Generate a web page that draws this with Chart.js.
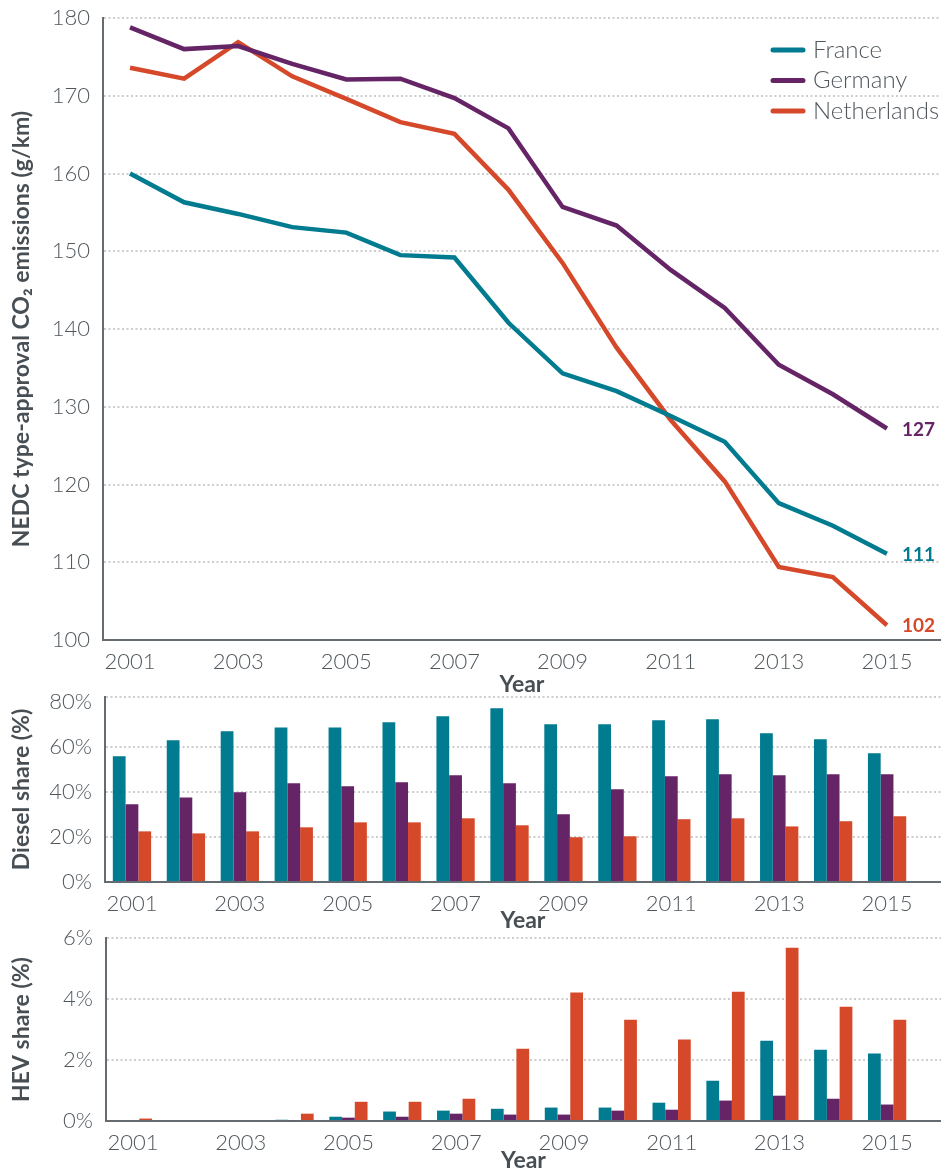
<!DOCTYPE html>
<html>
<head>
<meta charset="utf-8">
<script src="https://cdn.jsdelivr.net/npm/chart.js@4.4.1/dist/chart.umd.min.js"></script>
<style>
    body { margin: 0; background: #fff; }
    .panel { position: absolute; left: 0; width: 941px; }
</style>
</head>
<body>
<div class="panel" style="top:0;height:700px"><canvas id="co2Chart"></canvas></div>
<div class="panel" style="top:680px;height:260px"><canvas id="dieselChart"></canvas></div>
<div class="panel" style="top:920px;height:249px"><canvas id="hevChart"></canvas></div>
<script>
const years = [2001, 2002, 2003, 2004, 2005, 2006, 2007, 2008, 2009, 2010, 2011, 2012, 2013, 2014, 2015];
const tickYears = [2001, 2003, 2005, 2007, 2009, 2011, 2013, 2015];
const countries = ['France', 'Germany', 'Netherlands'];

// NEDC type-approval CO2 (g/km)
const co2France = [160.0, 156.3, 154.8, 153.1, 152.4, 149.5, 149.2, 140.8, 134.3, 132.0, 128.8, 125.5, 117.6, 114.7, 111.1];
const co2Germany = [178.8, 176.0, 176.4, 174.1, 172.1, 172.2, 169.7, 165.8, 155.7, 153.3, 147.6, 142.7, 135.4, 131.6, 127.2];
const co2Netherlands = [173.6, 172.2, 176.9, 172.5, 169.6, 166.6, 165.1, 157.9, 148.5, 137.6, 128.3, 120.4, 109.4, 108.1, 101.9];
const co2Ticks = [100, 110, 120, 130, 140, 150, 160, 170, 180];

// diesel share (%)
const dieselFrance = [55.9, 63.0, 67.0, 68.7, 68.7, 71.0, 73.6, 77.2, 70.1, 70.1, 71.9, 72.3, 66.1, 63.4, 57.2];
const dieselGermany = [34.5, 37.6, 39.9, 43.9, 42.5, 44.3, 47.4, 43.9, 30.1, 41.2, 47.0, 47.9, 47.4, 47.9, 47.9];
const dieselNetherlands = [22.5, 21.6, 22.5, 24.3, 26.5, 26.5, 28.3, 25.2, 19.9, 20.3, 27.9, 28.3, 24.7, 27.0, 29.2];
const dieselTicks = [0, 20, 40, 60, 80];
const dieselTop = 82.2;

// HEV share (%)
const hevFrance = [0, 0, 0, 0.04, 0.14, 0.31, 0.34, 0.40, 0.44, 0.44, 0.60, 1.32, 2.63, 2.34, 2.21];
const hevGermany = [0, 0, 0, 0.03, 0.11, 0.14, 0.24, 0.21, 0.21, 0.34, 0.37, 0.67, 0.83, 0.73, 0.54];
const hevNetherlands = [0.08, 0, 0, 0.24, 0.63, 0.63, 0.73, 2.37, 4.21, 3.32, 2.67, 4.24, 5.68, 3.75, 3.32];
const hevTicks = [0, 2, 4, 6];

const colors = ['#007b8f', '#642466', '#d5492a'];
const textColor = '#50585e';
const titleColor = '#474f55';
const axisColor = '#646c71';
const gridColor = '#cdcdcd';
const tickFont = { family: 'Lato', size: 22, weight: '300' };
const titleFont = { family: 'Lato', size: 23, weight: 'bold' };

function points(values) {
    return years.map((year, i) => ({ x: year, y: values[i] }));
}

function yearAxis(height, titleBottom, titleLineHeight) {
    return {
        type: 'linear',
        min: 2000.5,
        max: 2016,
        afterBuildTicks: axis => { axis.ticks = tickYears.map(v => ({ value: v })); },
        afterFit: axis => { axis.height = height; },
        grid: { display: false },
        border: { display: true, color: axisColor, width: 2 },
        ticks: {
            color: textColor,
            font: tickFont,
            padding: 1,
            maxRotation: 0,
            autoSkip: false,
            callback: v => String(v)
        },
        title: {
            display: true,
            text: 'Year',
            color: titleColor,
            font: Object.assign({}, titleFont, { lineHeight: titleLineHeight }),
            padding: { top: 0, bottom: titleBottom }
        }
    };
}

function valueAxis(width, tickValues, min, max, label, title) {
    return {
        min: min,
        max: max,
        afterBuildTicks: axis => { axis.ticks = tickValues.map(v => ({ value: v })); },
        afterFit: axis => { axis.width = width; },
        grid: {
            drawTicks: true,
            tickLength: 13,
            tickColor: 'rgba(0,0,0,0)',
            color: ctx => (ctx.tick && ctx.tick.value === 80 && max === dieselTop) ? 'rgba(0,0,0,0)' : gridColor,
            lineWidth: 2
        },
        border: { display: true, color: axisColor, width: 2, dash: [2, 2.5] },
        ticks: {
            color: textColor,
            font: tickFont,
            padding: 0,
            callback: label
        },
        title: {
            display: true,
            text: title,
            color: titleColor,
            font: titleFont,
            padding: { top: 8, bottom: 0 }
        }
    };
}

const sideLegend = {
    id: 'sideLegend',
    afterDraw(chart) {
        const ctx = chart.ctx;
        ctx.save();
        chart.data.datasets.forEach((ds, i) => {
            const y = 50 + i * 30.5;
            ctx.strokeStyle = ds.borderColor;
            ctx.lineWidth = 5;
            ctx.lineCap = 'round';
            ctx.beginPath();
            ctx.moveTo(773, y);
            ctx.lineTo(803, y);
            ctx.stroke();
            ctx.fillStyle = textColor;
            ctx.font = '300 24px Lato';
            ctx.textBaseline = 'middle';
            ctx.textAlign = 'left';
            ctx.fillText(ds.label, 813, y);
        });
        ctx.restore();
    }
};

const endLabels = {
    id: 'endLabels',
    afterDatasetsDraw(chart) {
        const ctx = chart.ctx;
        ctx.save();
        chart.data.datasets.forEach((ds, i) => {
            const meta = chart.getDatasetMeta(i);
            const last = meta.data[meta.data.length - 1];
            ctx.fillStyle = ds.borderColor;
            ctx.font = 'bold 19px Lato';
            ctx.textBaseline = 'middle';
            ctx.textAlign = 'left';
            ctx.fillText(Math.round(ds.data[ds.data.length - 1].y), last.x + 15, last.y + 1);
        });
        ctx.restore();
    }
};

const co2Series = [co2France, co2Germany, co2Netherlands];

new Chart(document.getElementById('co2Chart'), {
    type: 'line',
    data: {
        datasets: co2Series.map((values, i) => ({
            label: countries[i],
            data: points(values),
            borderColor: colors[i],
            borderWidth: 4.5,
            pointRadius: 0,
            tension: 0,
            clip: false
        }))
    },
    options: {
        responsive: true,
        maintainAspectRatio: false,
        animation: false,
        layout: { padding: { top: 18, right: 0, bottom: 0, left: 0 } },
        plugins: { legend: { display: false }, tooltip: { enabled: false } },
        scales: {
            x: yearAxis(60, 2, 1.2),
            y: valueAxis(103, co2Ticks, 100, 180, v => String(v), 'NEDC type-approval CO\u2082 emissions (g/km)')
        }
    },
    plugins: [sideLegend, endLabels]
});

function barChart(id, series, ticks, max, width, padTop, axisHeight, titleBottom, titleLineHeight, title) {
    return new Chart(document.getElementById(id), {
        type: 'bar',
        data: {
            datasets: series.map((values, i) => ({
                label: countries[i],
                data: points(values),
                backgroundColor: colors[i],
                borderWidth: 0,
                categoryPercentage: 0.71,
                barPercentage: 1.0
            }))
        },
        options: {
            responsive: true,
            maintainAspectRatio: false,
            animation: false,
            layout: { padding: { top: padTop, right: 0, bottom: 0, left: 0 } },
            plugins: { legend: { display: false }, tooltip: { enabled: false } },
            scales: {
                x: Object.assign(yearAxis(axisHeight, titleBottom, titleLineHeight), { offset: false }),
                y: valueAxis(width, ticks.concat(max > ticks[ticks.length - 1] ? [max] : []), 0, max,
                    v => ticks.includes(v) ? v + '%' : '', title)
            }
        }
    });
}

barChart('dieselChart', [dieselFrance, dieselGermany, dieselNetherlands], dieselTicks, dieselTop,
    105, 17, 58, 6, 1.2, 'Diesel share (%)');
barChart('hevChart', [hevFrance, hevGermany, hevNetherlands], hevTicks, 6,
    106, 18, 48, 0, 0.7, 'HEV share (%)');
</script>
</body>
</html>
